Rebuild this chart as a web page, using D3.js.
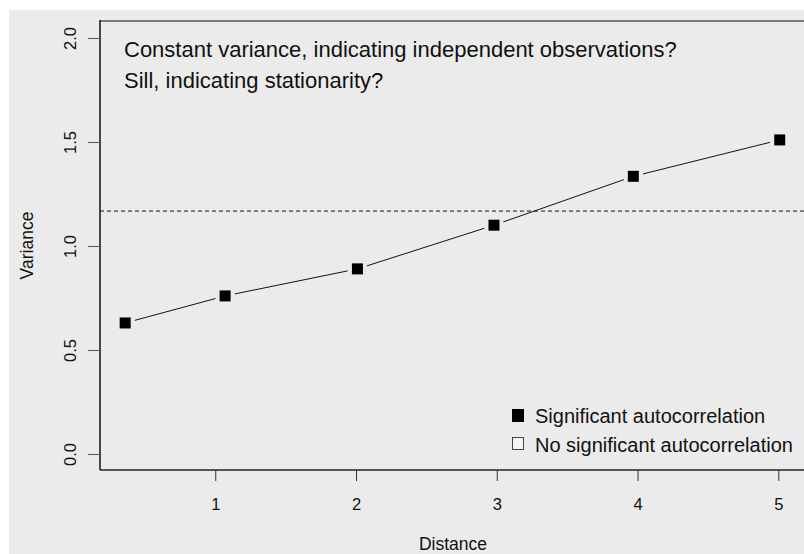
<!DOCTYPE html>
<html>
<head>
  <script type="text/javascript" src="https://cdn.jsdelivr.net/npm/d3@7"></script>
  <style>
    body { margin: 0; background: #fff; }
    text { font-family: "Liberation Sans", Arial, sans-serif; fill: #111; }
  </style>
</head>
<body>
  <div id="chart"></div>
  <script type="text/javascript">
    var w = 804;
    var h = 554;

    // data
    var distance = [0.36, 1.07, 2.01, 2.98, 3.97, 5.01];
    var variance = [0.63, 0.76, 0.89, 1.10, 1.335, 1.51];
    var significant = [true, true, true, true, true, true];
    var sill = 1.168;

    var xTicks = [1, 2, 3, 4, 5];
    var yTicks = [0.0, 0.5, 1.0, 1.5, 2.0];
    var noteLines = ["Constant variance, indicating independent observations?",
                     "Sill, indicating stationarity?"];
    var legendLabels = ["Significant autocorrelation", "No significant autocorrelation"];

    var svg = d3.select("#chart")
      .append("svg")
      .attr("width", w)
      .attr("height", h);

    // grey panel
    svg.append("rect")
      .attr("x", 9).attr("y", 10)
      .attr("width", w - 9).attr("height", h - 10)
      .attr("fill", "#ebebeb");

    var plotLeft = 100, plotTop = 21, plotBottom = 470;

    var xScale = d3.scaleLinear()
      .domain([0, 5])
      .range([74.5, 778.3]);

    var yScale = d3.scaleLinear()
      .domain([0, 2])
      .range([454, 38]);

    // frame
    svg.append("line")
      .attr("x1", plotLeft).attr("x2", w + 5)
      .attr("y1", plotTop).attr("y2", plotTop)
      .attr("stroke", "#7a7a7a").attr("stroke-width", 2);
    svg.append("line")
      .attr("x1", plotLeft).attr("x2", w + 5)
      .attr("y1", plotBottom).attr("y2", plotBottom)
      .attr("stroke", "#222").attr("stroke-width", 1.3);
    svg.append("line")
      .attr("x1", plotLeft).attr("x2", plotLeft)
      .attr("y1", plotTop - 1).attr("y2", plotBottom)
      .attr("stroke", "#111").attr("stroke-width", 1.5);

    // x axis
    var xAxis = d3.axisBottom(xScale)
      .tickValues(xTicks)
      .tickFormat(d3.format("d"))
      .tickSize(11)
      .tickPadding(17);
    var gx = svg.append("g")
      .attr("class", "x_Axis")
      .attr("transform", "translate(0," + plotBottom + ")")
      .call(xAxis);
    gx.select(".domain").remove();
    gx.selectAll("line").attr("stroke", "#333");
    gx.selectAll("text")
      .attr("font-size", "16.5px")
      .attr("font-family", "Liberation Sans, Arial, sans-serif")
      .attr("fill", "#111");

    // y axis
    var yAxis = d3.axisLeft(yScale)
      .tickValues(yTicks)
      .tickFormat(d3.format(".1f"))
      .tickSize(12);
    var gy = svg.append("g")
      .attr("class", "y_Axis")
      .attr("transform", "translate(" + plotLeft + ",0)")
      .call(yAxis);
    gy.select(".domain").remove();
    gy.selectAll("line").attr("stroke", "#555");
    gy.selectAll("text")
      .attr("font-size", "16.5px")
      .attr("font-family", "Liberation Sans, Arial, sans-serif")
      .attr("fill", "#111")
      .attr("x", 0).attr("dy", 0)
      .attr("text-anchor", "middle")
      .attr("transform", "translate(-24,0) rotate(-90)");

    // axis titles
    svg.append("text")
      .attr("x", (plotLeft + w) / 2 + 1)
      .attr("y", 550)
      .attr("text-anchor", "middle")
      .attr("font-size", "17.5px")
      .text("Distance");
    svg.append("text")
      .attr("transform", "translate(33," + (plotTop + plotBottom) / 2 + ") rotate(-90)")
      .attr("text-anchor", "middle")
      .attr("font-size", "17.5px")
      .text("Variance");

    // sill line
    svg.append("line")
      .attr("x1", plotLeft).attr("x2", w + 5)
      .attr("y1", yScale(sill)).attr("y2", yScale(sill))
      .attr("stroke", "#111").attr("stroke-width", 1)
      .attr("stroke-dasharray", "4,3");

    // connecting segments with gaps round the points
    var pts = distance.map(function(d, i) {
      return { x: xScale(d), y: yScale(variance[i]), sig: significant[i] };
    });
    var gap = 10;
    var segs = d3.pairs(pts).map(function(p) {
      var dx = p[1].x - p[0].x, dy = p[1].y - p[0].y;
      var len = Math.sqrt(dx * dx + dy * dy);
      var ux = dx / len, uy = dy / len;
      return { x1: p[0].x + ux * gap, y1: p[0].y + uy * gap,
               x2: p[1].x - ux * gap, y2: p[1].y - uy * gap };
    });
    svg.selectAll(".seg")
      .data(segs)
      .enter()
      .append("line")
      .attr("class", "seg")
      .attr("x1", function(d) { return d.x1; })
      .attr("y1", function(d) { return d.y1; })
      .attr("x2", function(d) { return d.x2; })
      .attr("y2", function(d) { return d.y2; })
      .attr("stroke", "#111").attr("stroke-width", 1);

    var s = 11;
    svg.selectAll(".pt")
      .data(pts)
      .enter()
      .append("rect")
      .attr("class", "pt")
      .attr("x", function(d) { return d.x - s / 2; })
      .attr("y", function(d) { return d.y - s / 2; })
      .attr("width", s).attr("height", s)
      .attr("fill", function(d) { return d.sig ? "#000" : "none"; })
      .attr("stroke", function(d) { return d.sig ? "none" : "#333"; });

    // notes
    svg.selectAll(".note")
      .data(noteLines)
      .enter()
      .append("text")
      .attr("class", "note")
      .attr("x", 124)
      .attr("y", function(d, i) { return 57 + i * 31; })
      .attr("font-size", "22px")
      .text(function(d) { return d; });

    // legend
    var lg = svg.append("g").attr("transform", "translate(512,409)");
    lg.selectAll("rect")
      .data(legendLabels)
      .enter()
      .append("rect")
      .attr("x", 0.5)
      .attr("y", function(d, i) { return i * 28 + 0.5; })
      .attr("width", 11).attr("height", 12)
      .attr("fill", function(d, i) { return i === 0 ? "#000" : "#f4f4f4"; })
      .attr("stroke", function(d, i) { return i === 0 ? "#000" : "#444"; });
    lg.selectAll("text")
      .data(legendLabels)
      .enter()
      .append("text")
      .attr("x", 23)
      .attr("y", function(d, i) { return 14 + i * 29; })
      .attr("font-size", "20px")
      .text(function(d) { return d; });
  </script>
</body>
</html>
